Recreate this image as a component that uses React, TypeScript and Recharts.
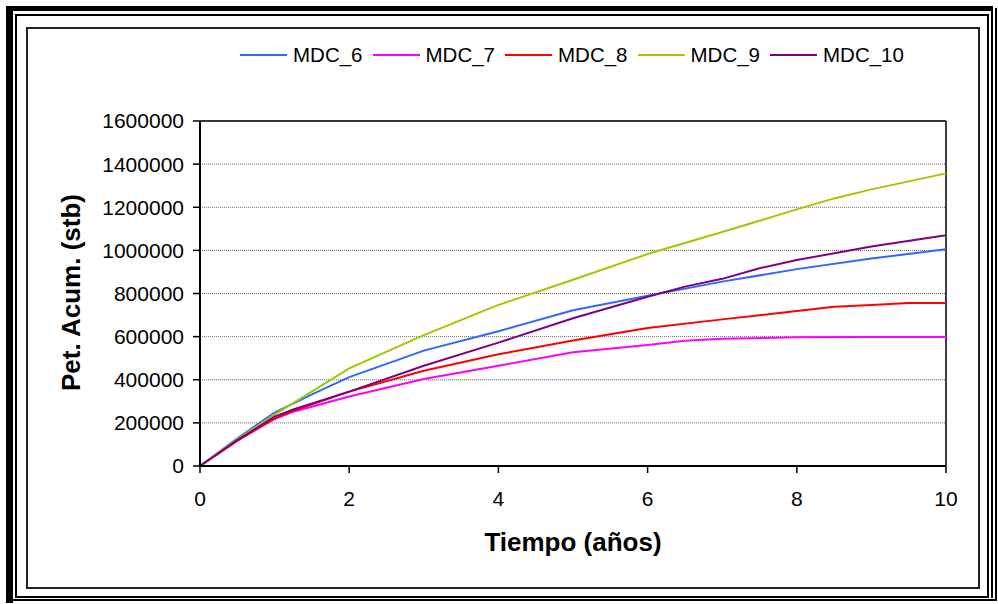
import React from 'react';
import { LineChart, Line, XAxis, YAxis, CartesianGrid, ReferenceLine } from 'recharts';

const seriesNames = ['MDC_6', 'MDC_7', 'MDC_8', 'MDC_9', 'MDC_10'];
const seriesColors = ['#3366FF', '#FF00FF', '#FF0000', '#99CC00', '#800080'];

const tiempo6 = [0, 0.5, 1, 1.5, 2, 3, 4, 5, 6, 7, 8, 9, 10];
const mdc6 = [0, 128000, 248000, 332000, 412000, 535000, 625000, 722000, 790000, 855000, 913000, 962000, 1005000];

const tiempo7 = [0, 0.5, 1, 1.25, 2, 3, 4, 5, 6, 6.5, 7, 8, 9, 10];
const mdc7 = [0, 118000, 218000, 252000, 322000, 403000, 465000, 527000, 561000, 581000, 590000, 597000, 598000, 598000];

const tiempo8 = [0, 0.5, 1, 1.25, 2, 3, 4, 5, 6, 7, 8, 8.5, 9, 9.5, 10];
const mdc8 = [0, 118000, 221000, 256000, 345000, 442000, 518000, 582000, 640000, 680000, 719000, 739000, 747000, 756000, 756000];

const tiempo9 = [0, 0.5, 1, 2, 3, 4, 5, 6, 7, 8, 8.5, 9, 10];
const mdc9 = [0, 125000, 238000, 453000, 607000, 747000, 864000, 983000, 1085000, 1190000, 1241000, 1283000, 1357000];

const tiempo10 = [0, 0.5, 1, 1.25, 2, 3, 4, 5, 6, 6.5, 7, 7.5, 8, 9, 10];
const mdc10 = [0, 120000, 229000, 262000, 345000, 465000, 572000, 685000, 785000, 832000, 868000, 917000, 955000, 1018000, 1070000];

const xTicks = [0, 2, 4, 6, 8, 10];
const yTicks = [0, 200000, 400000, 600000, 800000, 1000000, 1200000, 1400000, 1600000];

const xTitle = 'Tiempo (años)';
const yTitle = 'Pet. Acum. (stb)';

const toRows = (ts: number[], vs: number[]) => ts.map((t, i) => ({ t, v: vs[i] }));
const seriesData = [
  toRows(tiempo6, mdc6),
  toRows(tiempo7, mdc7),
  toRows(tiempo8, mdc8),
  toRows(tiempo9, mdc9),
  toRows(tiempo10, mdc10),
];

const FONT = '"Liberation Sans", Arial, Helvetica, sans-serif';

const YTitle = () => (
  <text
    x={79.5}
    y={292.5}
    transform="rotate(-90 79.5 292.5)"
    textAnchor="middle"
    fontSize={26}
    fontWeight="bold"
    fill="#000"
    fontFamily={FONT}
  >
    {yTitle}
  </text>
);

const XTitle = () => (
  <text x={573} y={551} textAnchor="middle" fontSize={26} fontWeight="bold" fill="#000" fontFamily={FONT}>
    {xTitle}
  </text>
);

const box = (s: React.CSSProperties): React.CSSProperties => ({ position: 'absolute', boxSizing: 'border-box', ...s });

export default function App() {
  return (
    <div style={{ position: 'absolute', left: 0, top: 0, width: 998, height: 604, background: '#fff', fontFamily: FONT, overflow: 'hidden' }}>
      {/* outer decorative frame */}
      <div style={box({ left: 6, top: 6, width: 7, height: 597, background: '#000' })} />
      <div style={box({ left: 6, top: 6, width: 987, height: 5, background: '#000' })} />
      <div style={box({ left: 991, top: 6, width: 2, height: 592, background: '#000' })} />
      <div style={box({ left: 995, top: 8, width: 2, height: 593, background: '#000' })} />
      <div style={box({ left: 6, top: 599, width: 991, height: 2, background: '#000' })} />
      <div style={box({ left: 15, top: 14, width: 974, height: 584, border: '2px solid #000' })} />
      {/* chart area box */}
      <div style={box({ left: 26, top: 27, width: 954, height: 562, border: '2px solid #222' })} />

      {/* legend */}
      <div style={{ position: 'absolute', left: 240, top: 43, height: 24, display: 'flex', alignItems: 'center' }}>
        {seriesNames.map((n, i) => (
          <div key={n} style={{ display: 'flex', alignItems: 'center', marginRight: 10 }}>
            <div style={{ width: 47, height: 2, background: seriesColors[i] }} />
            <span style={{ marginLeft: 6, fontSize: 20.5, lineHeight: '24px', color: '#000' }}>{n}</span>
          </div>
        ))}
      </div>

      <div style={{ position: 'absolute', left: 0, top: 0 }}>
        <LineChart width={998} height={604} margin={{ top: 121, right: 52, bottom: 78, left: 100 }}>
          <CartesianGrid vertical={false} stroke="#666" strokeDasharray="1 1" />
          <XAxis
            type="number"
            dataKey="t"
            domain={[0, 10]}
            ticks={xTicks}
            height={60}
            tickSize={7}
            tickMargin={18}
            axisLine={{ stroke: '#000', strokeWidth: 2 }}
            tickLine={{ stroke: '#000', strokeWidth: 1.5 }}
            tick={{ fontSize: 21, fill: '#000', fontFamily: FONT }}
            label={<XTitle />}
            allowDuplicatedCategory={false}
          />
          <YAxis
            type="number"
            domain={[0, 1600000]}
            ticks={yTicks}
            width={100}
            tickSize={7}
            tickMargin={9}
            interval={0}
            axisLine={{ stroke: '#000', strokeWidth: 2 }}
            tickLine={{ stroke: '#000', strokeWidth: 1.5 }}
            tick={{ fontSize: 21, fill: '#000', fontFamily: FONT }}
            tickFormatter={(v: number) => String(v)}
            label={<YTitle />}
          />
          <ReferenceLine y={1600000} stroke="#000" strokeWidth={1.5} />
          <ReferenceLine x={10} stroke="#000" strokeWidth={1.5} />
          {seriesNames.map((n, i) => (
            <Line
              key={n}
              name={n}
              data={seriesData[i]}
              dataKey="v"
              type="linear"
              stroke={seriesColors[i]}
              strokeWidth={2}
              dot={false}
              isAnimationActive={false}
            />
          ))}
        </LineChart>
      </div>
    </div>
  );
}
